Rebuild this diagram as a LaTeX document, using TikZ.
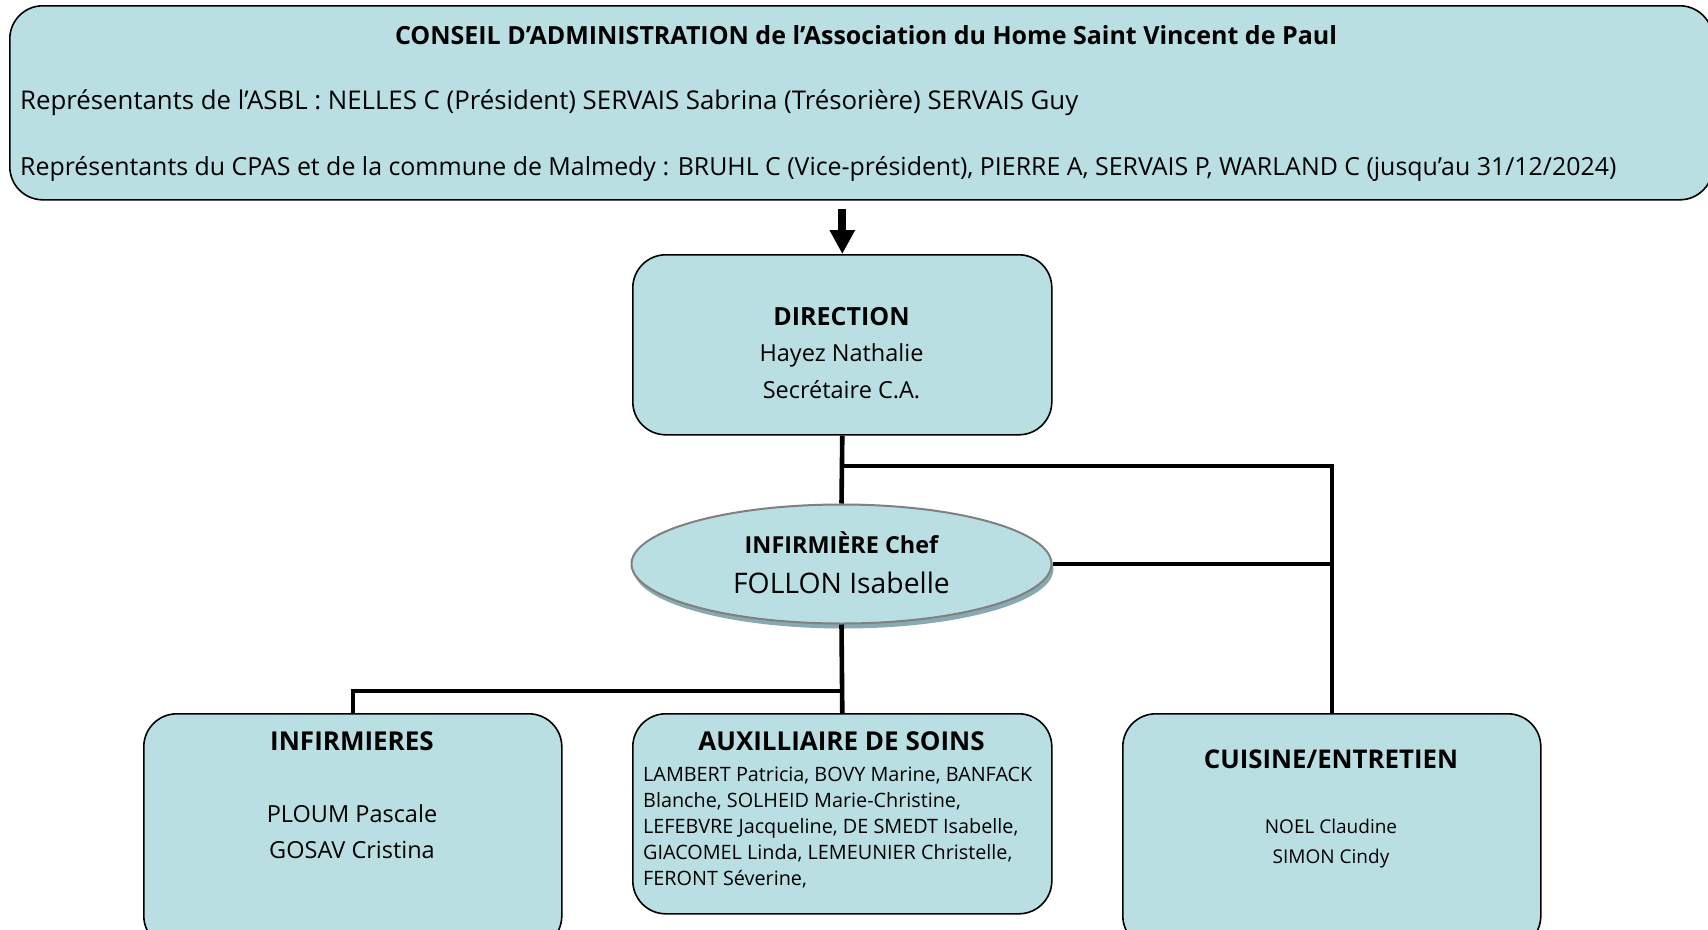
\documentclass[tikz,border=0pt]{standalone}
\usepackage{fontspec}
\setmainfont{Open Sans}
\usetikzlibrary{arrows.meta,shapes.geometric,shadows}
\definecolor{boxfill}{RGB}{185,223,227}
\definecolor{ellborder}{RGB}{128,128,128}
\definecolor{shadowcol}{RGB}{135,170,178}
\newcommand\myfs[1]{\fontsize{#1}{#1}\selectfont}
\begin{document}
\begin{tikzpicture}[x=1pt,y=-1pt,
  box/.style={draw=black, line width=1.6pt, fill=boxfill, rounded corners=33pt, inner sep=0pt},
  conn/.style={line width=4.6pt},
  txt/.style={inner sep=0pt, anchor=base},
  ltxt/.style={inner sep=0pt, anchor=base west}]
\useasboundingbox (0,0) rectangle (1708,929);
\clip (0,0) rectangle (1708,929);
% boxes
\node[box, minimum width=1703pt, minimum height=194pt, anchor=north west] (ca) at (9,5) {};
\node[box, minimum width=419pt, minimum height=180pt, anchor=north west] (dir) at (632,254) {};
\node[ellipse, draw=ellborder, line width=2pt, fill=boxfill, minimum width=420pt, minimum height=119pt,
      drop shadow={shadow xshift=2pt, shadow yshift=-5pt, fill=shadowcol, opacity=1}] (chef) at (841.5,564) {};
\node[box, minimum width=418pt, minimum height=235pt, anchor=north west] (inf) at (143,713) {};
\node[box, minimum width=419pt, minimum height=200pt, anchor=north west] (aux) at (632,713) {};
\node[box, minimum width=418pt, minimum height=235pt, anchor=north west] (cuis) at (1122,713) {};
% texts top
\node[txt] (t1) at (866,44) {\myfs{25}\bfseries CONSEIL D’ADMINISTRATION de l’Association du Home Saint Vincent de Paul};
\node[ltxt] (t2) at (20,109) {\myfs{25.8}Représentants de l’ASBL : NELLES C (Président) SERVAIS Sabrina (Trésorière) SERVAIS Guy};
\node[ltxt] (t3) at (20,175) {\myfs{24.9}Représentants du CPAS et de la commune de Malmedy : BRUHL C (Vice-président), PIERRE A, SERVAIS P, WARLAND C (jusqu’au 31/12/2024)};
% direction
\node[txt] (d1) at (841.5,325) {\myfs{25}\bfseries DIRECTION};
\node[txt] (d2) at (841.5,361) {\myfs{23.5}Hayez Nathalie};
\node[txt] (d3) at (841.5,398) {\myfs{23.5}Secrétaire C.A.};
% chef
\node[txt] (c1) at (841.5,553) {\myfs{23.4}\bfseries INFIRMIÈRE Chef};
\node[txt] (c2) at (841.5,593) {\myfs{28.3}FOLLON Isabelle};
% infirmieres
\node[txt] (i1) at (352,750) {\myfs{26}\bfseries INFIRMIERES};
\node[txt] (i2) at (352,822) {\myfs{23.5}PLOUM Pascale};
\node[txt] (i3) at (352,858) {\myfs{23.5}GOSAV Cristina};
% aux
\node[txt] (a0) at (841.5,750) {\myfs{26}\bfseries AUXILLIAIRE DE SOINS};
\node[ltxt] (a1) at (643,781) {\myfs{19.8}LAMBERT Patricia, BOVY Marine, BANFACK};
\node[ltxt] (a2) at (643,807) {\myfs{19.8}Blanche, SOLHEID Marie-Christine,};
\node[ltxt] (a3) at (643,833) {\myfs{19.8}LEFEBVRE Jacqueline, DE SMEDT Isabelle,};
\node[ltxt] (a4) at (643,859) {\myfs{19.8}GIACOMEL Linda, LEMEUNIER Christelle,};
\node[ltxt] (a5) at (643,885) {\myfs{19.8}FERONT Séverine,};
% cuisine
\node[txt] (k1) at (1331,768) {\myfs{25.8}\bfseries CUISINE/ENTRETIEN};
\node[txt] (k2) at (1331,833) {\myfs{19}NOEL Claudine};
\node[txt] (k3) at (1331,863) {\myfs{19}SIMON Cindy};
% connectors
\draw[line width=8pt, -{Triangle[width=24pt,length=24pt]}, shorten <=8pt] (ca.south -| dir.north) -- (dir.north);
\draw[conn] (dir.south) -- (chef.north);
\coordinate (j1) at (841.5,466);
\draw[conn] (j1) -- (j1 -| cuis.north) -- (cuis.north);
\draw[conn] (chef.east) -- (chef.east -| cuis.north);
\draw[conn] (chef.south) -- (aux.north);
\coordinate (j2) at (841.5,691);
\draw[conn] (j2) -- (j2 -| inf.north) -- (inf.north);
\end{tikzpicture}
\end{document}
